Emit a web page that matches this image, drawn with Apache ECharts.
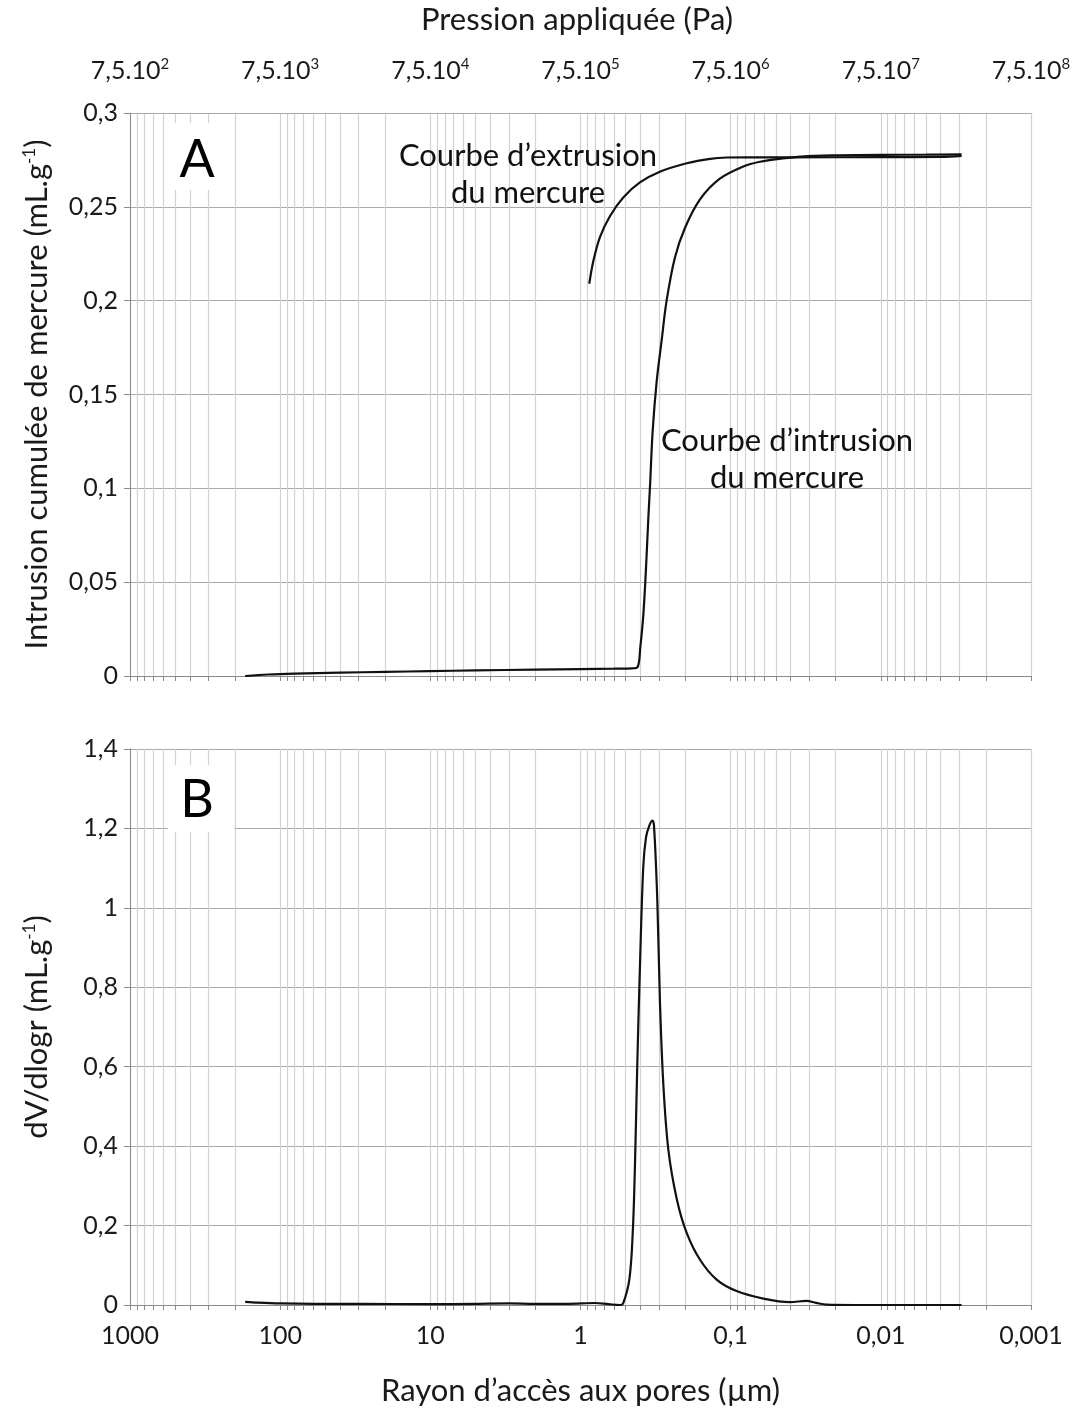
<!DOCTYPE html>
<html>
<head>
<meta charset="utf-8">
<title>Porosimétrie au mercure</title>
<script src="https://cdn.jsdelivr.net/npm/echarts@6/dist/echarts.min.js"></script>
<style>
  html, body { margin: 0; padding: 0; background: #fff; }
  #chart { width: 1075px; height: 1411px; }
</style>
</head>
<body>
<div id="chart"></div>
<script>
// valeurs (rayon en µm)
var rayonIntrusion = [171, 120, 80, 40, 20, 10, 5, 2, 1, 0.6, 0.45, 0.415, 0.4, 0.382, 0.366, 0.353, 0.344, 0.331, 0.311, 0.288, 0.267, 0.235, 0.201, 0.16, 0.118, 0.0824, 0.0638, 0.045, 0.034, 0.02, 0.01, 0.005, 0.0029];
var volumeIntrusion = [0, 0.0008, 0.0013, 0.0018, 0.0022, 0.0026, 0.003, 0.0034, 0.0037, 0.0039, 0.0041, 0.005, 0.015, 0.032, 0.058, 0.085, 0.102, 0.13, 0.157, 0.179, 0.2, 0.223, 0.239, 0.254, 0.265, 0.2715, 0.274, 0.2758, 0.2768, 0.2774, 0.2777, 0.2778, 0.278];

var rayonExtrusion = [0.874, 0.822, 0.741, 0.637, 0.519, 0.402, 0.296, 0.196, 0.137, 0.106, 0.08, 0.04, 0.01, 0.004, 0.0029];
var volumeExtrusion = [0.209, 0.221, 0.234, 0.245, 0.255, 0.263, 0.2687, 0.2732, 0.2756, 0.2763, 0.2764, 0.2764, 0.2765, 0.2766, 0.2772];

var rayonDistribution = [171, 140, 100, 60, 30, 10, 5, 3, 2, 1.2, 0.8, 0.65, 0.546, 0.52, 0.473, 0.449, 0.434, 0.419, 0.402, 0.382, 0.366, 0.348, 0.332, 0.324, 0.308, 0.296, 0.281, 0.26, 0.228, 0.196, 0.16, 0.124, 0.0913, 0.0606, 0.0403, 0.0313, 0.027, 0.023, 0.015, 0.0029];
var dvDlogr = [0.008, 0.006, 0.004, 0.003, 0.003, 0.002, 0.003, 0.004, 0.003, 0.003, 0.005, 0.002, 0, 0.004, 0.064, 0.181, 0.349, 0.6, 0.851, 1.103, 1.178, 1.207, 1.22, 1.207, 1.019, 0.768, 0.558, 0.391, 0.265, 0.181, 0.114, 0.064, 0.035, 0.016, 0.007, 0.0105, 0.0055, 0.001, 0, 0];

// graduations
var rayonTicks = [1000, 100, 10, 1, 0.1, 0.01, 0.001];
var rayonLabels = ['1000', '100', '10', '1', '0,1', '0,01', '0,001'];
var pressionExposants = ['2', '3', '4', '5', '6', '7', '8'];
var multiplicateurs = [1, 2, 3, 4, 5, 6, 7, 8, 9];

var police = 'Lato';
var grilleMineure = [];
rayonTicks.forEach(function (d) {
  if (d === 1000) { grilleMineure.push(d); return; }
  multiplicateurs.forEach(function (m) { grilleMineure.push(+(d * m).toPrecision(3)); });
});

function paires(xs, ys) {
  return xs.map(function (x, i) { return [x, ys[i]]; });
}
function indexDecade(v) {
  return 3 - Math.round(Math.log10(v));
}
function virgule(v) {
  return String(+v.toFixed(3)).replace('.', ',');
}

var chart = echarts.init(document.getElementById('chart'));

var axeX = function (grid) {
  return {
    gridIndex: grid,
    type: 'log',
    inverse: true,
    min: 0.001,
    max: 1000,
    position: 'bottom',
    axisLine: { show: true, lineStyle: { color: '#8a8a8a', width: 1 } },
    axisTick: { show: true, customValues: grilleMineure, length: 5, lineStyle: { color: '#8a8a8a' } },
    splitLine: { show: true, lineStyle: { color: '#d2d2d2', width: 1.2 } },
    axisLabel: { show: false }
  };
};

var xBas = axeX(1);
xBas.axisLabel = {
  show: true,
  customValues: rayonTicks,
  margin: 18,
  fontSize: 25,
  color: '#1a1a1a',
  fontFamily: police,
  formatter: function (v) { return rayonLabels[indexDecade(v)]; }
};
xBas.name = 'Rayon d’accès aux pores (µm)';
xBas.nameLocation = 'middle';
xBas.nameGap = 70;
xBas.nameTextStyle = { fontSize: 31, color: '#1a1a1a', fontFamily: police };

var axeY = function (grid, max, interval, nom) {
  return {
    gridIndex: grid,
    type: 'value',
    min: 0,
    max: max,
    interval: interval,
    axisLine: { show: true, lineStyle: { color: '#8a8a8a' } },
    axisTick: { show: true, length: 6, lineStyle: { color: '#8a8a8a' } },
    splitLine: { show: true, lineStyle: { color: '#a9a9a9', width: 1.2 } },
    axisLabel: { margin: 12, fontSize: 25, color: '#1a1a1a', fontFamily: police, formatter: virgule },
    name: nom,
    nameLocation: 'middle',
    nameRotate: 90,
    nameGap: 78,
    nameTextStyle: {
      rich: {
        b: { fontSize: 31, color: '#1a1a1a', fontFamily: police },
        s: { fontSize: 17, color: '#1a1a1a', fontFamily: police, verticalAlign: 'top' }
      }
    }
  };
};

var trait = { color: '#111', width: 2.2 };

chart.setOption({
  animation: false,
  backgroundColor: '#fff',
  textStyle: { fontFamily: police },
  grid: [
    { left: 130, right: 44, top: 113, height: 563 },
    { left: 130, right: 44, top: 749, height: 556 }
  ],
  xAxis: [
    axeX(0),
    {
      gridIndex: 0,
      type: 'log',
      inverse: true,
      min: 0.001,
      max: 1000,
      position: 'top',
      axisLine: { show: true, lineStyle: { color: '#a9a9a9' } },
      axisTick: { show: false },
      splitLine: { show: false },
      axisLabel: {
        customValues: rayonTicks,
        margin: 28,
        color: '#1a1a1a',
        formatter: function (v) { return '{b|7,5.10}{s|' + pressionExposants[indexDecade(v)] + '}'; },
        rich: {
          b: { fontSize: 25, fontFamily: police, color: '#1a1a1a', lineHeight: 28 },
          s: { fontSize: 15, fontFamily: police, color: '#1a1a1a', verticalAlign: 'top', lineHeight: 28 }
        }
      }
    },
    xBas
  ],
  yAxis: [
    axeY(0, 0.3, 0.05, '{b|Intrusion cumulée de mercure (mL.g}{s|-1}{b|)}'),
    axeY(1, 1.4, 0.2, '{b|dV/dlogr (mL.g}{s|-1}{b|)}')
  ],
  series: [
    {
      name: 'Intrusion', type: 'line', xAxisIndex: 0, yAxisIndex: 0,
      data: paires(rayonIntrusion, volumeIntrusion),
      showSymbol: false, smooth: 0.35, lineStyle: trait
    },
    {
      name: 'Extrusion', type: 'line', xAxisIndex: 0, yAxisIndex: 0,
      data: paires(rayonExtrusion, volumeExtrusion),
      showSymbol: false, smooth: 0.35, lineStyle: trait
    },
    {
      name: 'dV/dlogr', type: 'line', xAxisIndex: 2, yAxisIndex: 1,
      data: paires(rayonDistribution, dvDlogr),
      showSymbol: false, smooth: 0.35, lineStyle: trait
    }
  ],
  graphic: [
    { type: 'text', x: 577, y: 20, z: 20,
      style: { text: 'Pression appliquée (Pa)', fontSize: 31, fontFamily: police, fill: '#1a1a1a', align: 'center', verticalAlign: 'middle' } },
    { type: 'rect', z: 20, shape: { x: 168, y: 123, width: 66, height: 67 }, style: { fill: '#fff' } },
    { type: 'text', x: 197, y: 160, z: 21,
      style: { text: 'A', fontSize: 52, fontFamily: police, fill: '#000', align: 'center', verticalAlign: 'middle' } },
    { type: 'rect', z: 20, shape: { x: 168, y: 765, width: 66, height: 67 }, style: { fill: '#fff' } },
    { type: 'text', x: 197, y: 800, z: 21,
      style: { text: 'B', fontSize: 52, fontFamily: police, fill: '#000', align: 'center', verticalAlign: 'middle' } },
    { type: 'text', x: 528, y: 174, z: 21,
      style: { text: 'Courbe d’extrusion\ndu mercure', fontSize: 31, lineHeight: 37, fontFamily: police, fill: '#111', align: 'center', verticalAlign: 'middle' } },
    { type: 'text', x: 787, y: 459, z: 21,
      style: { text: 'Courbe d’intrusion\ndu mercure', fontSize: 31, lineHeight: 37, fontFamily: police, fill: '#111', align: 'center', verticalAlign: 'middle' } }
  ]
});
</script>
</body>
</html>
